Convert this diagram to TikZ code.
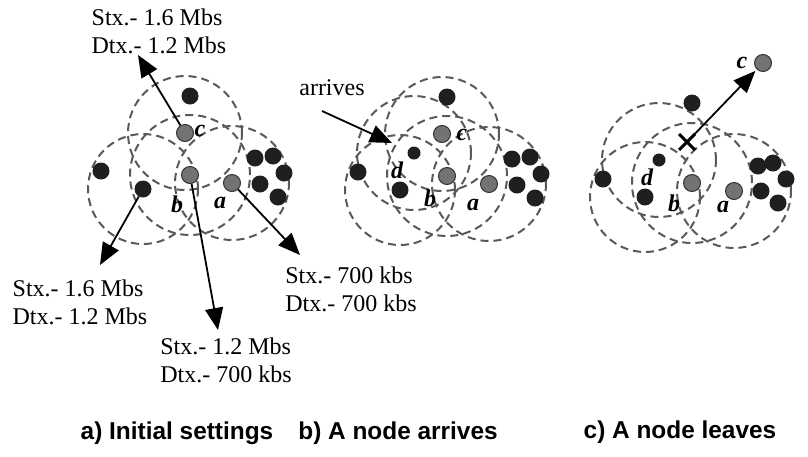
\documentclass[tikz,border=0pt]{standalone}
\usepackage{fontspec}
\setmainfont{Liberation Serif}
\newfontfamily\capfont{Liberation Sans}
\usetikzlibrary{arrows.meta,backgrounds,shapes.misc}

\begin{document}
\begin{tikzpicture}[x=1pt, y=-1pt,
    dot/.style={circle, fill=black!88, minimum size=17pt, inner sep=0pt},
    gdot/.style={circle, fill=black!55, draw=black!80, line width=1pt, minimum size=17pt, inner sep=0pt},
    sdot/.style={dot, minimum size=13pt},
    rng/.style={draw=black!65, line width=2pt, dash pattern=on 8pt off 5pt},
    arr/.style={-{Triangle[length=22pt, width=18pt]}, line width=1.8pt},
    rate/.style={align=left, font=\fontsize{24}{28}\selectfont, inner sep=0pt},
    tag/.style={font=\fontsize{24}{24}\selectfont\bfseries\itshape, inner sep=0pt},
    captxt/.style={font=\capfont\bfseries\fontsize{24.4}{25}\selectfont, inner sep=0pt}
]
\useasboundingbox (0,0) rectangle (808,456);

% a) initial settings
\node[dot]  (aT) at (190,96) {};
\node[gdot] (aC) at (185,133) {};
\node[gdot] (aB) at (190,175) {};
\node[gdot] (aA) at (232,183) {};
\node[dot]  (aL) at (143,189) {};
\node[dot]  (aF) at (101,171) {};
\node[dot]  (aK1) at (255,158) {};
\node[dot]  (aK2) at (273,156) {};
\node[dot]  (aK3) at (284,173) {};
\node[dot]  (aK4) at (260,184) {};
\node[dot]  (aK5) at (278,197) {};
\begin{scope}[on background layer]
    \draw[rng] (aC) circle (57pt);
    \draw[rng] (aB) circle (60pt);
    \draw[rng] (aL) circle (55pt);
    \draw[rng] (aA) circle (57pt);
\end{scope}
\node[tag] (aCl) at (200,131) {c};
\node[tag] (aBl) at (177,204) {b};
\node[tag] (aAl) at (220,203) {a};
\node[rate] (aR1) at (159,31) {Stx.- 1.6 Mbs\\Dtx.- 1.2 Mbs};
\node[rate] (aR2) at (80,302) {Stx.- 1.6 Mbs\\Dtx.- 1.2 Mbs};
\node[rate] (aR3) at (226,360) {Stx.- 1.2 Mbs\\Dtx.- 700 kbs};
\node[rate] (aR4) at (351,289) {Stx.- 700 kbs\\Dtx.- 700 kbs};
\coordinate (aP1) at (138,55);
\coordinate (aP2) at (100,265);
\coordinate (aP3) at (218,330);
\coordinate (aP4) at (300,255);
\draw[arr] (aC) -- (aP1);
\draw[arr] (aL) -- (aP2);
\draw[arr] (aB) -- (aP3);
\draw[arr] (aA) -- (aP4);
\node[captxt] (aCap) at (177,433) {a) Initial settings};

% b) a node arrives
\begin{scope}[shift={(257,1)}]
\node[dot]  (bT) at (190,96) {};
\node[gdot] (bC) at (185,133) {};
\node[gdot] (bB) at (190,175) {};
\node[gdot] (bA) at (232,183) {};
\node[dot]  (bL) at (143,189) {};
\node[dot]  (bF) at (101,171) {};
\node[sdot] (bD) at (157,152) {};
\node[dot]  (bK1) at (255,158) {};
\node[dot]  (bK2) at (273,156) {};
\node[dot]  (bK3) at (284,173) {};
\node[dot]  (bK4) at (260,184) {};
\node[dot]  (bK5) at (278,197) {};
\begin{scope}[on background layer]
    \draw[rng] (bC) circle (57pt);
    \draw[rng] (bB) circle (60pt);
    \draw[rng] (bL) circle (55pt);
    \draw[rng] (bA) circle (57pt);
    \draw[rng] (bD) circle (57pt);
\end{scope}
\node[tag] (bCl) at (205,134) {c};
\node[tag] (bDl) at (140,169) {d};
\node[tag] (bBl) at (173,197) {b};
\node[tag] (bAl) at (216,204) {a};
\node[font=\fontsize{24}{24}\selectfont, inner sep=0pt] (bNew) at (75,87) {arrives};
\coordinate (bS) at (65,110);
\coordinate (bE) at (135,142);
\draw[arr] (bS) -- (bE);
\node[captxt] (bCap) at (141,432) {b) A node arrives};
\end{scope}

% c) a node leaves
\begin{scope}[shift={(502,8)}]
\node[dot]  (cT) at (190,95) {};
\node[draw, cross out, line width=3pt, minimum size=13pt, inner sep=0pt] (cX) at (185,134) {};
\node[gdot] (cC) at (261,55) {};
\node[gdot] (cB) at (190,175) {};
\node[gdot] (cA) at (232,183) {};
\node[dot]  (cL) at (143,189) {};
\node[dot]  (cF) at (101,171) {};
\node[sdot] (cD) at (157,152) {};
\node[dot]  (cK1) at (256,158) {};
\node[dot]  (cK2) at (271,155) {};
\node[dot]  (cK3) at (284,171) {};
\node[dot]  (cK4) at (259,183) {};
\node[dot]  (cK5) at (276,195) {};
\begin{scope}[on background layer]
    \draw[rng] (cB) circle (60pt);
    \draw[rng] (cL) circle (55pt);
    \draw[rng] (cA) circle (57pt);
    \draw[rng] (cD) circle (57pt);
\end{scope}
\node[tag] (cCl) at (240,55) {c};
\node[tag] (cDl) at (145,169) {d};
\node[tag] (cBl) at (172,195) {b};
\node[tag] (cAl) at (221,199) {a};
\draw[arr, shorten >=2pt] (cX.center) -- (cC);
\node[captxt] (cCap) at (178,424) {c) A node leaves};
\end{scope}
\end{tikzpicture}
\end{document}
